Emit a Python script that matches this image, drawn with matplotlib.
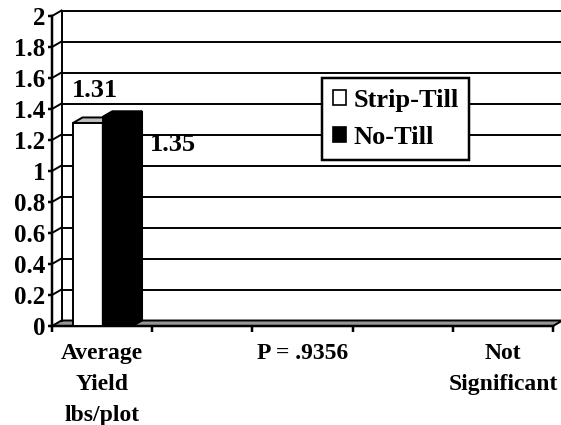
import matplotlib
matplotlib.use('Agg')
import matplotlib.pyplot as plt
from matplotlib.patches import Polygon, Patch

# data
categories = ['Average\nYield\nlbs/plot', '', 'P = .9356', '', 'Not\nSignificant']
series_names = ['Strip-Till', 'No-Till']
series_values = [1.31, 1.35]
series_colors = ['white', 'black']
top_colors = ['#c0c0c0', 'black']
yticks = [0, 0.2, 0.4, 0.6, 0.8, 1, 1.2, 1.4, 1.6, 1.8, 2]
ytick_labels = ['0', '0.2', '0.4', '0.6', '0.8', '1', '1.2', '1.4', '1.6', '1.8', '2']

plt.rcParams['font.family'] = 'Liberation Serif'
plt.rcParams['font.weight'] = 'bold'

W, H = 561, 425
fig = plt.figure(figsize=(W / 100, H / 100), dpi=100)
ax = fig.add_axes([52 / W, 99 / H, 501 / W, 310 / H])
ax.set_xlim(0, len(categories))
ax.set_ylim(0, 2)

# depth offset of the pseudo 3d look (in data units)
dx = 9.5 / 100.2
dy = 5.5 / 155
ncat = len(categories)
lw = 1.4

# floor
ax.add_patch(Polygon([(0, 0), (ncat, 0), (ncat + dx, dy), (dx, dy)], closed=True,
                     facecolor='#969696', edgecolor='black', lw=lw, clip_on=False, zorder=1))

# back wall grid and side wall diagonals
for v in yticks[1:]:
    ax.plot([dx, ncat + dx], [v + dy, v + dy], color='black', lw=lw, clip_on=False, zorder=1)
    ax.plot([0, dx], [v, v + dy], color='black', lw=lw, clip_on=False, zorder=1)
ax.plot([dx, dx], [dy, 2 + dy], color='black', lw=lw, clip_on=False, zorder=1)

# bars with top and side faces
bw = 0.297
x0 = 0.21
for i, (val, fc, tc) in enumerate(zip(series_values, series_colors, top_colors)):
    left = x0 + i * bw
    ax.bar(left, val, width=bw, align='edge', color=fc, edgecolor='black', lw=lw, zorder=3 + i)
    ax.add_patch(Polygon([(left, val), (left + bw, val), (left + bw + dx, val + dy), (left + dx, val + dy)],
                         closed=True, facecolor=tc, edgecolor='black', lw=lw, zorder=3 + i))
    ax.add_patch(Polygon([(left + bw, 0), (left + bw + dx, dy), (left + bw + dx, val + dy), (left + bw, val)],
                         closed=True, facecolor=fc, edgecolor='black', lw=lw, zorder=3 + i))

# value labels
ax.text(0.2, 1.52, '1.31', fontsize=19, fontweight='bold', va='center', ha='left', zorder=6)
ax.text(0.98, 1.17, '1.35', fontsize=19, fontweight='bold', va='center', ha='left', zorder=6)

# axes
for s in ['top', 'right']:
    ax.spines[s].set_visible(False)
ax.spines['left'].set_linewidth(lw + 0.4)
ax.spines['bottom'].set_linewidth(lw + 0.4)
ax.spines['left'].set_zorder(7)
ax.set_yticks(yticks)
ax.set_yticklabels(ytick_labels, fontsize=18, fontweight='bold')
ax.tick_params(axis='y', direction='out', length=3, width=lw + 0.4, pad=2)
ax.set_xticks(range(ncat + 1))
ax.set_xticklabels([''] * (ncat + 1))
ax.tick_params(axis='x', which='major', direction='out', length=4, width=lw + 0.4)
ax.set_xticks([i + 0.5 for i in range(ncat)], minor=True)
ax.set_xticklabels(categories, minor=True, fontsize=17, fontweight='bold')
ax.tick_params(axis='x', which='minor', length=0, pad=12)
for lbl in ax.get_xticklabels(minor=True):
    lbl.set_linespacing(1.62)
ax.patch.set_visible(False)

handles = [Patch(facecolor=c, edgecolor='black', lw=1.2) for c in series_colors]
leg = fig.legend(handles, series_names, loc='upper left', bbox_to_anchor=(322 / W, 1 - 78 / H),
                 fancybox=False, edgecolor='black', framealpha=1,
                 prop={'weight': 'bold', 'size': 19}, handlelength=0.5, handleheight=0.5,
                 handletextpad=0.3, labelspacing=0.55, borderpad=0.4, borderaxespad=0)
leg.get_frame().set_linewidth(lw + 0.4)
leg.set_zorder(10)

fig.savefig('out.png', dpi=100)
